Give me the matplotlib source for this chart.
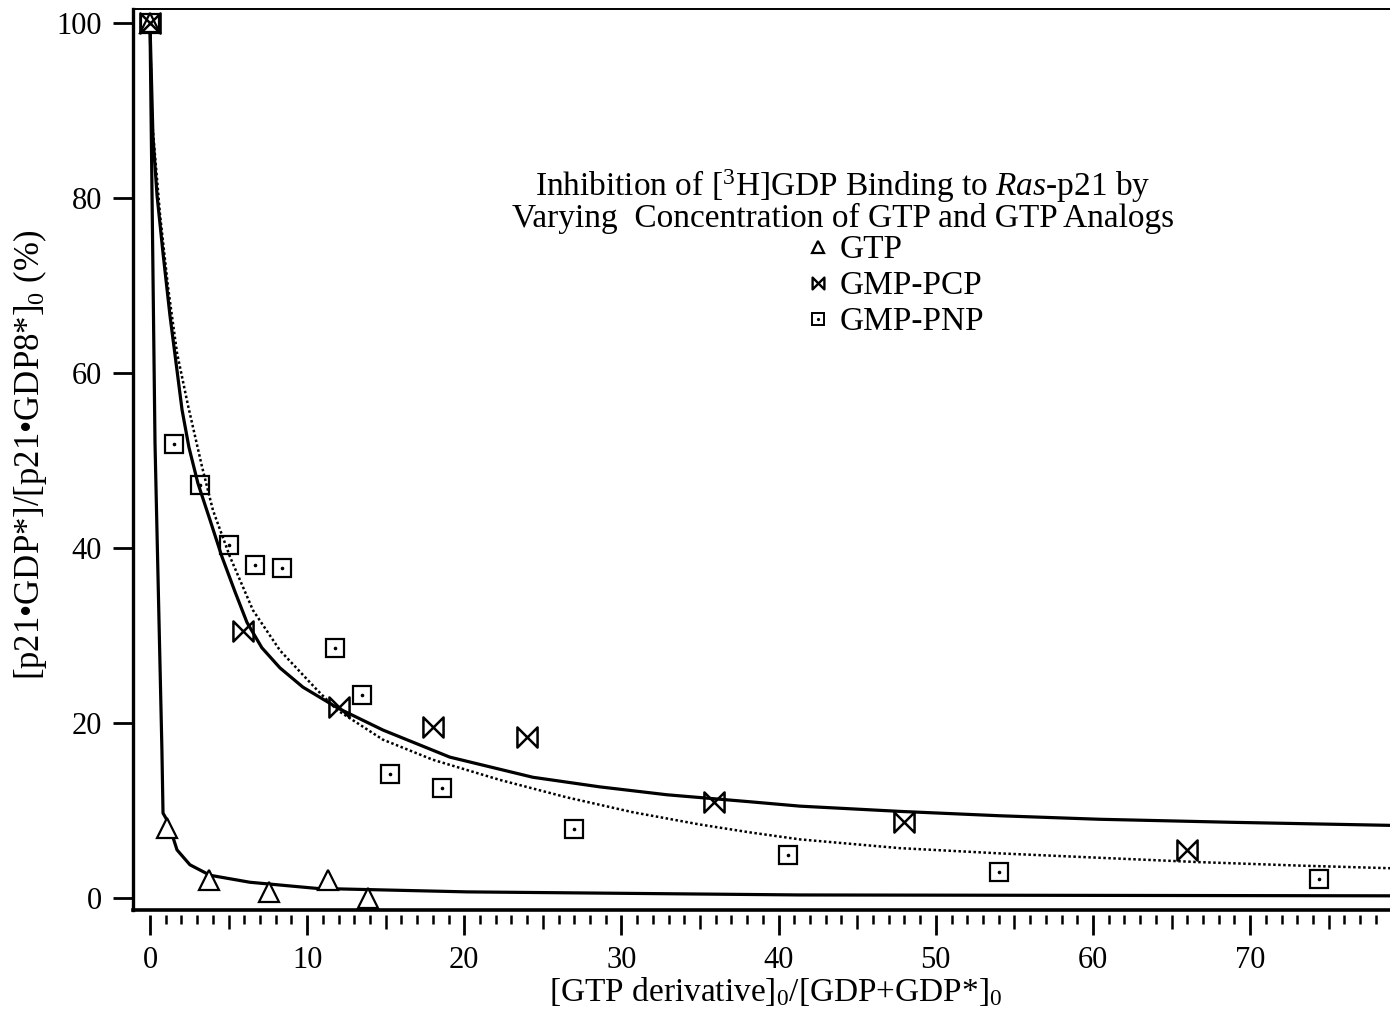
import matplotlib
matplotlib.use("Agg")
import matplotlib.pyplot as plt
from matplotlib.path import Path
from matplotlib.lines import Line2D
from matplotlib.legend_handler import HandlerTuple

gtp_x = [0, 1.1, 3.75, 7.6, 11.3, 13.9]
gtp_y = [100, 8.0, 2.1, 0.7, 2.1, 0.0]
pcp_x = [0, 5.9, 12.0, 18.0, 24.0, 35.9, 48.0, 66.0]
pcp_y = [100, 30.5, 21.8, 19.5, 18.4, 11.0, 8.7, 5.5]
pnp_x = [0, 1.5, 3.2, 5.0, 6.7, 8.4, 11.8, 13.5, 15.3, 18.6, 27.0, 40.6, 54.0, 74.4]
pnp_y = [100, 51.9, 47.2, 40.3, 38.1, 37.7, 28.6, 23.2, 14.2, 12.6, 7.9, 4.9, 3.0, 2.2]

# fitted curves
gtp_fit_x = [0, 0.32, 0.76, 0.83, 1.15, 1.72, 2.54, 3.82, 6.36, 7.57, 10.6, 20.2, 41.3, 79.0]
gtp_fit_y = [100, 52.0, 16.9, 9.7, 8.7, 5.5, 3.8, 2.6, 1.8, 1.6, 1.1, 0.7, 0.35, 0.25]
pcp_fit_x = [0, 0.19, 0.45, 0.83, 1.27, 1.72, 2.04, 2.48, 3.05, 3.82, 4.58, 5.41, 6.17, 7.12,
             8.27, 9.73, 11.96, 14.82, 19.08, 24.36, 28.63, 32.89, 38.17, 41.35, 47.71, 54.07,
             60.4, 68.9, 79.0]
pcp_fit_y = [100, 87.0, 80.3, 73.7, 66.6, 60.3, 55.8, 51.5, 47.4, 43.2, 39.0, 35.0, 31.5, 28.6,
             26.3, 24.1, 21.7, 19.2, 16.1, 13.8, 12.7, 11.8, 11.0, 10.5, 9.9, 9.4,
             9.0, 8.65, 8.3]
pnp_fit_x = [0, 0.13, 0.64, 1.15, 1.72, 2.42, 3.31, 4.01, 5.09, 6.55, 8.27, 10.62, 11.9, 14.82,
             18.0, 22.26, 26.53, 30.73, 34.99, 38.17, 41.35, 47.71, 54.07, 60.4, 66.8, 73.2, 79.0]
pnp_fit_y = [100, 88.9, 78.1, 69.8, 62.3, 56.3, 49.3, 44.3, 39.0, 32.9, 28.3, 23.8, 21.5, 18.1,
             15.8, 13.5, 11.5, 9.8, 8.4, 7.5, 6.7, 5.7, 5.1, 4.6, 4.1, 3.7, 3.4]

x_major = [0, 10, 20, 30, 40, 50, 60, 70]
y_major = [0, 20, 40, 60, 80, 100]

plt.rcParams["font.family"] = "Liberation Serif"
plt.rcParams["mathtext.fontset"] = "custom"
plt.rcParams["mathtext.rm"] = "Liberation Serif"
plt.rcParams["mathtext.it"] = "Liberation Serif:italic"

bowtie = Path([(-1, -1), (1, 1), (1, -1), (-1, 1), (-1, -1)],
              [Path.MOVETO, Path.LINETO, Path.LINETO, Path.LINETO, Path.CLOSEPOLY])

fig = plt.figure(figsize=(13.9, 10.18), dpi=100)
ax = fig.add_axes([133 / 1390, 108 / 1018, 1 - 133 / 1390, (910 - 9) / 1018])

ax.plot(gtp_fit_x, gtp_fit_y, color="k", lw=2.3, solid_joinstyle="round")
ax.plot(pcp_fit_x, pcp_fit_y, color="k", lw=2.3, solid_joinstyle="round")
ax.plot(pnp_fit_x, pnp_fit_y, color="k", lw=1.8, linestyle=(0, (1, 1)))

ax.plot(gtp_x, gtp_y, ls="none", marker="^", ms=14.5, mfc="white", mec="k", mew=1.6)
ax.plot(pcp_x, pcp_y, ls="none", marker=bowtie, ms=14.5, mfc="none", mec="k", mew=1.8)
ax.plot(pnp_x, pnp_y, ls="none", marker="s", ms=13.5, mfc="none", mec="k", mew=1.6)
ax.plot(pnp_x, pnp_y, ls="none", marker="o", ms=1.6, mfc="k", mec="k")

ax.set_xlim(-1.08, 78.9)
ax.set_ylim(-1.37, 101.6)

ax.spines["right"].set_visible(False)
ax.spines["top"].set_linewidth(1.4)
ax.spines["left"].set_linewidth(2.4)
ax.spines["bottom"].set_position(("outward", 3.6))
ax.spines["bottom"].set_visible(False)
ax.plot([0, 1], [0, 0], transform=ax.transAxes, color="k", lw=2.6, clip_on=False)

ax.set_xticks(x_major)
ax.set_xticks(range(0, 79), minor=True)
ax.set_yticks(y_major)
ax.tick_params(axis="x", which="major", direction="out", length=14.4, width=2.0, pad=8, labelsize=22)
ax.tick_params(axis="x", which="minor", direction="out", length=6.5, width=1.8)
ax.tick_params(axis="y", which="major", direction="out", length=14.4, width=2.0, pad=8, labelsize=22)
for loc, t in zip(ax.xaxis.get_minorticklocs(), ax.xaxis.get_minor_ticks()):
    if loc % 5 == 0:
        t.tick1line.set_markersize(10)

ax.set_xlabel(r"[GTP derivative]$_0$/[GDP+GDP*]$_0$", fontsize=24)
ax.xaxis.label.set_verticalalignment("center")
ax.xaxis.set_label_coords(0.511, -0.09)
ax.set_ylabel(r"[p21•GDP*]/[p21•GDP8*]$_0$ (%)", fontsize=25)
ax.yaxis.label.set_verticalalignment("center")
ax.yaxis.set_label_coords(-0.082, 0.505)

fig.text(843 / 1390, 1 - 201 / 1018,
         "Inhibition of [$^3$H]GDP Binding to $\\it{Ras}$-p21 by\nVarying  Concentration of GTP and GTP Analogs",
         ha="center", va="center", fontsize=24, linespacing=0.92)

h_gtp = Line2D([], [], ls="none", marker="^", ms=8, mfc="white", mec="k", mew=1.6)
h_pcp = Line2D([], [], ls="none", marker=bowtie, ms=8.5, mfc="none", mec="k", mew=1.7)
h_pnp = (Line2D([], [], ls="none", marker="s", ms=8, mfc="none", mec="k", mew=1.4),
         Line2D([], [], ls="none", marker="o", ms=1.3, mfc="k", mec="k"))
ax.legend([h_gtp, h_pcp, h_pnp], ["GTP", "GMP-PCP", "GMP-PNP"],
          handler_map={tuple: HandlerTuple(ndivide=1)},
          loc="upper left", bbox_to_anchor=(808 / 1390, 1 - 235 / 1018),
          bbox_transform=fig.transFigure, frameon=False, fontsize=24,
          handlelength=0.6, handletextpad=0.36, labelspacing=0.165, borderpad=0, borderaxespad=0)

fig.savefig("out.png", dpi=100)
